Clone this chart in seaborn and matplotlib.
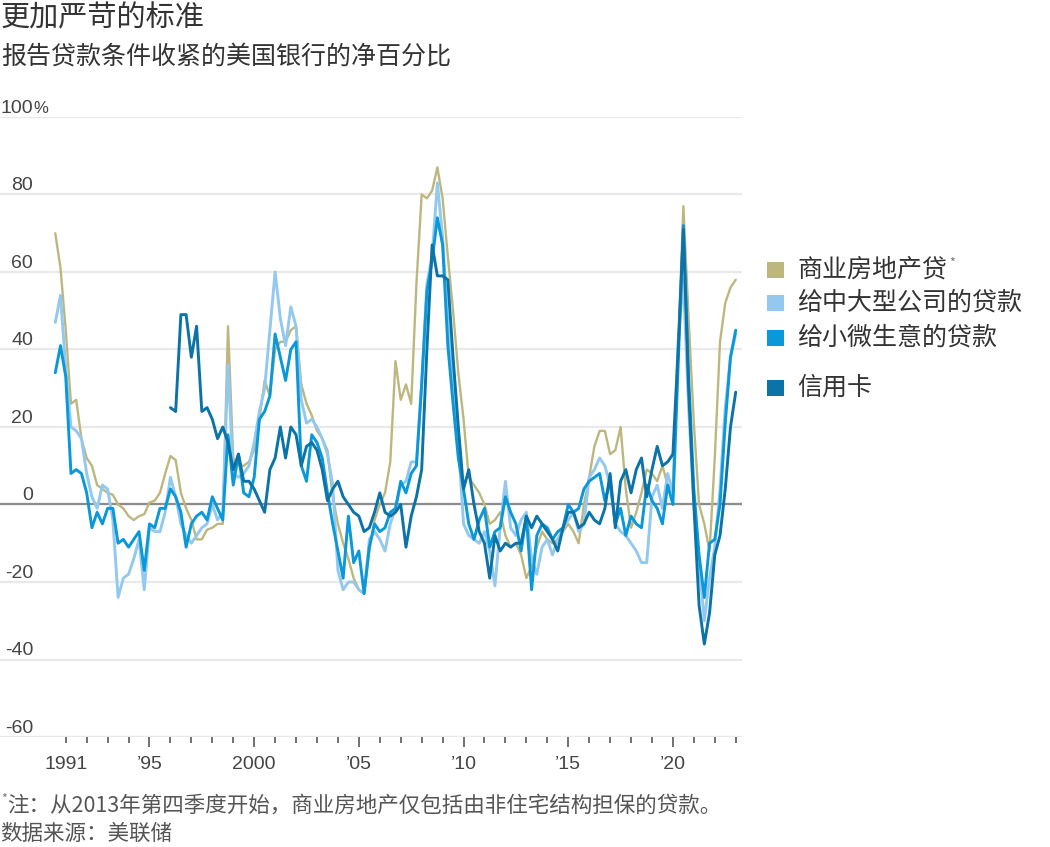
import matplotlib
matplotlib.use('Agg')

import matplotlib.pyplot as plt
import matplotlib.transforms as mtransforms
from matplotlib.patches import Rectangle
import numpy as np
import pandas as pd
import seaborn as sns

# quarterly readings, 1990 Q3 .. 2023 Q2 (net % of banks tightening)
first_quarter = 1990.5

cre = [70, 61, 45, 26, 27, 17, 12, 10, 5, 4,
       3, 2.5, 0, -1, -3, -4, -3, -2.5, 0.5, 1,
       3, 8, 12.5, 11.5, 3, -1, -4, -9, -9, -6.5,
       -6, -5, -5, 46, 12, 10, 10, 11, 14, 22,
       32, 28, 40, 42, 42, 45, 46, 31, 26, 23,
       19, 17, 14, 2, -5, -10, -14, -19, -22, -23,
       -12, -4, 0, 3, 11, 37, 27, 31, 26, 57,
       80, 79, 81, 87, 79, 64, 50, 34, 22, 7,
       5, 3, 0, -5, -4, -2, -8, -11, -10, -13,
       -19, -16, -11, -7, -9, -10, -9, -7, -5, -7,
       -10, 0, 7, 15, 19, 19, 13, 14, 20, 4,
       -6, -2, 3, 9, 8, 6, 10, 5, 4, 40,
       77, 48, 21, 0, -5, -12, 12, 42, 52, 56,
       58]

large_firms = [47, 54, 35, 20, 19, 17, 8, 2, -1, 5,
               4, -4, -24, -19, -18, -14, -9, -22, -6, -7,
               -7, -2, 7, 2, -5, -8, -10, -8, -6, -5,
               0, -4, -2, 36, 8, 7, 8, 10, 16, 24,
               30, 45, 60, 48, 41, 51, 46, 27, 21, 22,
               20, 17, 13, 5, -17, -22, -20, -20, -22, -23,
               -9, -7, -9, -12, -5, -1, 5, 6, 11, 11,
               31, 57, 64, 83, 69, 47, 31, 16, -5, -8,
               -9, -10, -7, -12, -21, -6, 6, -6, -8, -4,
               -2, -14, -18, -11, -9, -13, -9, -6, -4, -2,
               -7, -5, 7, 9, 12, 10, 5, -5, -7, -8,
               -10, -12, -15, -15, 2, 5, -1, 8, 3, 42,
               58, 25, 0, -15, -30, -19, -11, 4, 25, 38,
               44]

small_firms = [34, 41, 33, 8, 9, 8, 3, -6, -2, -5,
               -1, -1, -10, -9, -11, -9, -7, -17, -5, -6,
               -1, -1, 4, 2, -2, -11, -5, -3, -2, -4,
               2, -1, -4, 18, 5, 13, 3, 2, 7, 22,
               24, 28, 44, 38, 32, 40, 42, 10, 6, 18,
               16, 12, 3, -5, -12, -19, -3, -15, -12, -23,
               -11, -5, -7, -6, -2, -1, 6, 3, 8, 10,
               31, 55, 63, 74, 67, 41, 26, 12, 4, -5,
               -9, -4, -1, -11, -7, -6, 2, -2, -5, -12,
               -3, -22, -8, -5, -6, -9, -7, -6, 0, -2,
               -1, 4, 6, 7, 8, 1, 6, -5, -1, -8,
               -3, -5, -6, 5, 1, -1, -5, 5, 0, 36,
               72, 33, 4, -13, -24, -10, -9, 0, 21, 38,
               45]

# credit cards start in 1996 Q1
card_offset = 22
credit_cards = [25, 24, 49, 49, 38, 46, 24, 25,
                22, 17, 20, 16, 9, 13, 6, 6, 4, 1,
                -2, 9, 12, 20, 12, 20, 18, 10, 15, 16,
                14, 9, 1, 4, 6, 2, 0, -2, -3, -7,
                -6, -2, 3, -2, -3, -2, 0, -11, -3, 2,
                9, 40, 67, 59, 59, 58, 38, 20, 4, 9,
                0, -7, -10, -19, -8, -12, -10, -11, -10, -10,
                -3, -6, -3, -5, -7, -9, -12, -6, -2, -2,
                -6, -5, -2, -4, -5, -1, 8, -6, 6, 9,
                3, 9, 12, 2, 9, 15, 10, 11, 13, 40,
                71, 30, 0, -26, -36, -28, -13, -8, 4, 20,
                29]

series_names = ['商业房地产贷', '给中大型公司的贷款', '给小微生意的贷款', '信用卡']
series_colors = ['#bdb77f', '#93c9ee', '#0a98d9', '#0b73a7']
line_widths = [1.7, 2.1, 2.1, 2.1]

y_ticks = [-60, -40, -20, 0, 20, 40, 60, 80, 100]
x_ticks = [1991, 1995, 2000, 2005, 2010, 2015, 2020]
x_labels = ['1991', '’95', '2000', '’05', '’10', '’15', '’20']

quarters = first_quarter + 0.25 * np.arange(len(cre))

frames = []
for name, vals, offset in zip(series_names,
                              [cre, large_firms, small_firms, credit_cards],
                              [0, 0, 0, card_offset]):
    frames.append(pd.DataFrame({
        'date': quarters[offset:offset + len(vals)],
        'value': vals,
        'series': name,
    }))
df = pd.concat(frames, ignore_index=True)

sns.set_theme(style='white')
cjk = ['Noto Sans CJK SC', 'DejaVu Sans']
nums = ['Liberation Sans', 'DejaVu Sans']
plt.rcParams['font.family'] = cjk

W, H = 1050, 847
fig = plt.figure(figsize=(W / 100, H / 100), dpi=100)
fig.patch.set_facecolor('white')


def fx(x):
    return x / W


def fy(y):
    return 1 - y / H


ax = fig.add_axes([0, fy(737), fx(742), (737 - 117) / H])
ax.set_facecolor('white')
for s in ax.spines.values():
    s.set_visible(False)

ax.set_ylim(-60, 100)
ax.set_xlim(1987.86, 2023.3)

ax.set_yticks(y_ticks)
ax.yaxis.grid(True, color='#e9e9e9', linewidth=1.6)
ax.tick_params(axis='y', length=0, labelleft=False)
ax.axhline(0, color='#8c8c8c', linewidth=1.6, zorder=1.5)

for name, color, lw in zip(series_names, series_colors, line_widths):
    sns.lineplot(data=df[df['series'] == name], x='date', y='value',
                 color=color, linewidth=lw, estimator=None, sort=False,
                 legend=False, ax=ax, zorder=3)

ax.set_xlabel('')
ax.set_ylabel('')

# x ticks: short marks every year, longer at the labelled 5-year marks
ax.set_xticks(x_ticks)
ax.set_xticklabels(x_labels, fontfamily=nums, fontsize=14, color='#444444')
ax.set_xticks(range(1991, 2024), minor=True)
ax.tick_params(axis='x', which='major', direction='out', length=7, width=1.3,
               color='#666666', pad=7, bottom=True)
ax.tick_params(axis='x', which='minor', direction='out', length=4, width=1.3,
               color='#666666', bottom=True)
ax.xaxis.get_major_ticks()[0].tick1line.set_markersize(4)

# y labels sit above their gridlines
trans = mtransforms.blended_transform_factory(ax.transAxes, ax.transData)
for v in y_ticks:
    ax.text(33 / 742, v + 1.1, str(v), transform=trans, ha='right',
            va='baseline', fontsize=14, fontfamily=nums, color='#444444')
ax.text(33 / 742, 100 + 1.1, '%', transform=trans, ha='left', va='baseline',
        fontsize=12, fontfamily=nums, color='#444444')

# titles
fig.text(fx(1), fy(18), '更加严苛的标准', fontsize=21, color='#333333',
         va='center', ha='left')
fig.text(fx(1), fy(57), '报告贷款条件收紧的美国银行的净百分比', fontsize=18,
         color='#333333', va='center', ha='left')

# legend
legend_rows = [270, 303, 338, 388]
for name, color, yc in zip(series_names, series_colors, legend_rows):
    fig.add_artist(Rectangle((fx(767), fy(yc + 8)), 17 / W, 16 / H,
                             transform=fig.transFigure, color=color, lw=0))
    fig.text(fx(797), fy(yc), name, fontsize=18, color='#333333',
             va='center', ha='left')
fig.text(fx(949), fy(263), '*', fontsize=9, color='#777777',
         va='center', ha='left')

# notes
fig.text(fx(1), fy(799), '*', fontsize=9, color='#777777', va='center', ha='left')
fig.text(fx(7), fy(806), '注：从2013年第四季度开始，商业房地产仅包括由非住宅结构担保的贷款。',
         fontsize=15.5, color='#555555', va='center', ha='left')
fig.text(fx(0), fy(834), '数据来源：美联储', fontsize=15.5, color='#555555',
         va='center', ha='left')

fig.savefig('out.png', dpi=100, facecolor='white')
